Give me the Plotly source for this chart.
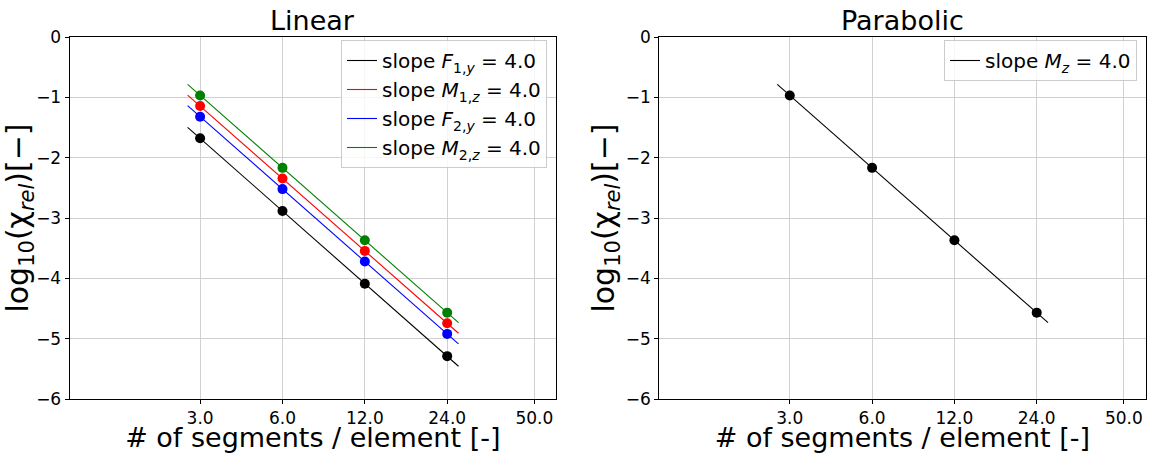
import numpy as np
import plotly.graph_objects as go

# ---- data ----
segments = [3, 6, 12, 24]
lin_F1y = [-1.679, -2.884, -4.090, -5.290]
lin_M1z = [-1.145, -2.345, -3.545, -4.745]
lin_F2y = [-1.321, -2.521, -3.721, -4.921]
lin_M2z = [-0.969, -2.169, -3.369, -4.569]
par_Mz = [-0.969, -2.169, -3.369, -4.569]

x_tickvals = [3, 6, 12, 24, 50]
x_ticktext = ["3.0", "6.0", "12.0", "24.0", "50.0"]
y_tickvals = [0, -1, -2, -3, -4, -5, -6]

lin_series = [
    ("<i>F</i><sub>1,<i>y</i></sub>", lin_F1y, "#000000"),
    ("<i>M</i><sub>1,<i>z</i></sub>", lin_M1z, "#ff0000"),
    ("<i>F</i><sub>2,<i>y</i></sub>", lin_F2y, "#0000ff"),
    ("<i>M</i><sub>2,<i>z</i></sub>", lin_M2z, "#008000"),
]
par_series = [("<i>M</i><sub><i>z</i></sub>", par_Mz, "#000000")]

FONT = "DejaVu Sans, Verdana, sans-serif"
W, H = 1153, 453

fig = go.Figure()


def add_panel(series, xa, ya, legend):
    xs = np.array(segments, dtype=float)
    lx = np.log10(xs)
    for name, vals, col in series:
        p = np.polyfit(lx, np.array(vals), 1)
        xf = np.array([0.9 * xs.min(), 1.1 * xs.max()])
        yf = np.polyval(p, np.log10(xf))
        fig.add_trace(go.Scatter(
            x=xf, y=yf, mode="lines", line=dict(color=col, width=1.1),
            name=f"slope {name} = {-p[0]:.1f}", xaxis=xa, yaxis=ya,
            legend=legend, showlegend=True, hoverinfo="skip"))
    for name, vals, col in series:
        fig.add_trace(go.Scatter(
            x=segments, y=vals, mode="markers",
            marker=dict(color=col, size=10), xaxis=xa, yaxis=ya,
            legend=legend, showlegend=False, hoverinfo="skip"))


add_panel(lin_series, "x", "y", "legend")
add_panel(par_series, "x2", "y2", "legend2")

xdom1 = [69.6 / W, 556.0 / W]
xdom2 = [659.3 / W, 1145.5 / W]
ydom = [1 - 399.0 / H, 1 - 37.0 / H]

axis_common = dict(
    showline=True, linecolor="black", linewidth=1, mirror=True,
    ticks="outside", ticklen=4, tickcolor="black",
    showgrid=True, gridcolor="#d0d0d0", gridwidth=1.3, zeroline=False,
    tickfont=dict(family=FONT, size=17, color="black"),
)

xaxis_common = dict(
    axis_common, type="log", range=[0.0, 1.778],
    tickvals=x_tickvals, ticktext=x_ticktext,
    title=dict(text="# of segments / element [-]",
               font=dict(family=FONT, size=27, color="black"), standoff=0),
)
yaxis_common = dict(
    axis_common, range=[-6, 0], tickvals=y_tickvals,
    title=dict(text="log<sub>10</sub>(χ<sub><i>rel</i></sub>)[−]",
               font=dict(family=FONT, size=30, color="black"), standoff=2),
)

legend_common = dict(
    xanchor="right", yanchor="top", traceorder="normal",
    bgcolor="rgba(255,255,255,0.8)", bordercolor="#cccccc", borderwidth=1,
    font=dict(family=FONT, size=20, color="black"),
)

fig.update_layout(
    width=W, height=H,
    margin=dict(l=0, r=0, t=0, b=0, autoexpand=False),
    paper_bgcolor="white", plot_bgcolor="white",
    font=dict(family=FONT, color="black"),
    showlegend=True,
    xaxis=dict(xaxis_common, domain=xdom1, anchor="y", automargin=False),
    yaxis=dict(yaxis_common, domain=ydom, anchor="x", automargin=False),
    xaxis2=dict(xaxis_common, domain=xdom2, anchor="y2", automargin=False),
    yaxis2=dict(yaxis_common, domain=ydom, anchor="x2", automargin=False),
    legend=dict(legend_common, x=547.0 / W, y=1 - 40.0 / H),
    legend2=dict(legend_common, x=1137.0 / W, y=1 - 40.0 / H),
    annotations=[
        dict(text="Linear", x=(xdom1[0] + xdom1[1]) / 2, y=1 - 20 / H,
             xref="paper", yref="paper", showarrow=False,
             xanchor="center", yanchor="middle",
             font=dict(family=FONT, size=27, color="black")),
        dict(text="Parabolic", x=(xdom2[0] + xdom2[1]) / 2, y=1 - 20 / H,
             xref="paper", yref="paper", showarrow=False,
             xanchor="center", yanchor="middle",
             font=dict(family=FONT, size=27, color="black")),
    ],
)

fig.write_html(
    "out.html",
    config={"displayModeBar": False},
    post_script="document.body.style.margin='0';document.body.style.padding='0';",
)
